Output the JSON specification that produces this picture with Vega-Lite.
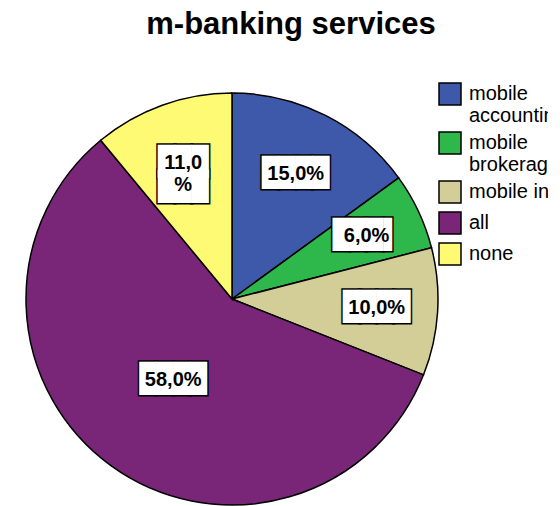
{
  "$schema": "https://vega.github.io/schema/vega-lite/v6.json",
  "width": 412,
  "height": 412,
  "autosize": {"type": "none"},
  "padding": {"left": 26, "top": 93, "right": 110, "bottom": 1},
  "background": "white",
  "title": {
    "text": "m-banking services",
    "font": "Liberation Sans",
    "fontSize": 31,
    "fontWeight": "bold",
    "color": "black",
    "anchor": "middle",
    "frame": "group",
    "dx": 59,
    "offset": 41
  },
  "config": {"view": {"stroke": null}},
  "data": {
    "values": [
      {"category": "mobile accounting", "value": 15, "label": "15,0%", "order": 1},
      {"category": "mobile brokerage", "value": 6, "label": "6,0%", "order": 2},
      {"category": "mobile information", "value": 10, "label": "10,0%", "order": 3},
      {"category": "all", "value": 58, "label": "58,0%", "order": 4},
      {"category": "none", "value": 11, "label": "11,0\n%", "order": 5}
    ]
  },
  "encoding": {
    "theta": {"field": "value", "type": "quantitative", "stack": true},
    "order": {"field": "order", "type": "quantitative"}
  },
  "layer": [
    {
      "mark": {"type": "arc", "stroke": "black", "strokeWidth": 1.5},
      "encoding": {
        "color": {
          "field": "category",
          "type": "nominal",
          "scale": {
            "domain": ["mobile accounting", "mobile brokerage", "mobile information", "all", "none"],
            "range": ["#3E58AA", "#2EB84C", "#D3CE97", "#7A2678", "#FFFA73"]
          },
          "legend": {
            "title": null,
            "orient": "none",
            "legendX": 412,
            "legendY": -11,
            "padding": 0,
            "symbolType": "square",
            "symbolSize": 484,
            "symbolStrokeColor": "black",
            "symbolStrokeWidth": 1.5,
            "symbolOpacity": 1,
            "labelFont": "Liberation Sans",
            "labelFontSize": 20,
            "labelColor": "black",
            "labelOffset": 7,
            "labelLimit": 400,
            "rowPadding": 3,
            "labelExpr": "datum.label == 'mobile accounting' ? ['mobile', 'accounting'] : datum.label == 'mobile brokerage' ? ['mobile', 'brokerage'] : datum.label"
          }
        }
      }
    },
    {
      "mark": {"type": "text", "font": "DejaVu Sans Mono", "fontSize": 28, "fill": "black", "stroke": "black", "strokeWidth": 3, "lineBreak": "\n", "lineHeight": 25, "align": "center", "baseline": "middle"},
      "encoding": {
        "detail": {"field": "category"},
        "radius": {"field": "value", "type": "quantitative", "scale": {"type": "linear", "domain": [10, 58], "range": [145, 100], "zero": false}},
        "text": {"condition": [{"test": "datum.category == 'none'", "value": "███\n███"}, {"test": "datum.category == 'mobile brokerage'", "value": "███▌"}], "value": "████"}
      }
    },
    {
      "mark": {"type": "text", "font": "DejaVu Sans Mono", "fontSize": 28, "fill": "white", "lineBreak": "\n", "lineHeight": 25, "align": "center", "baseline": "middle"},
      "encoding": {
        "detail": {"field": "category"},
        "radius": {"field": "value", "type": "quantitative"},
        "text": {"condition": [{"test": "datum.category == 'none'", "value": "███\n███"}, {"test": "datum.category == 'mobile brokerage'", "value": "███▌"}], "value": "████"}
      }
    },
    {
      "mark": {"type": "text", "font": "Liberation Sans", "fontWeight": "bold", "fontSize": 20, "fill": "black", "lineBreak": "\n", "lineHeight": 22, "align": "center", "baseline": "middle"},
      "encoding": {
        "detail": {"field": "category"},
        "radius": {"field": "value", "type": "quantitative"},
        "text": {"field": "label"}
      }
    }
  ]
}
